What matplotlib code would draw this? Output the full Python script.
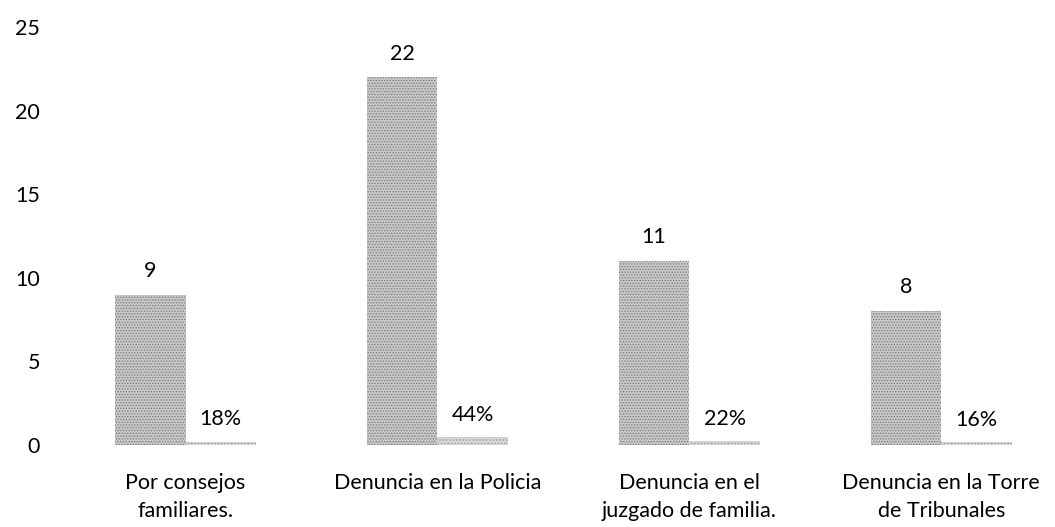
import matplotlib
matplotlib.use("Agg")
import matplotlib.pyplot as plt
import numpy as np

plt.rcParams['font.family'] = ['Lato', 'DejaVu Sans']
plt.rcParams['hatch.linewidth'] = 0.6

# data
categories = ['Por consejos\nfamiliares.', 'Denuncia en la Policia',
              'Denuncia en el\njuzgado de familia.', 'Denuncia en la Torre\nde Tribunales']
counts = [9, 22, 11, 8]
percents = [0.18, 0.44, 0.22, 0.16]
pct_labels = ['18%', '44%', '22%', '16%']

x = np.arange(len(categories))
w = 0.28
fs = 15.5

fig = plt.figure(figsize=(10.55, 5.27), dpi=100)
ax = fig.add_axes([0.0565, 0.156, 0.955, 0.792])

b1 = ax.bar(x - w / 2, counts, w, color='#c8c8c8', hatch='......',
            edgecolor='#7a7a7a', linewidth=0)
b2 = ax.bar(x + w / 2, percents, w, color='#d6d6d6', hatch='.....',
            edgecolor='#999999', linewidth=0)

for rect, v in zip(b1, counts):
    ax.annotate(str(v), (rect.get_x() + rect.get_width() / 2, v), xytext=(0, 10),
                textcoords='offset points', ha='center', va='bottom', fontsize=fs)
for rect, v, lab in zip(b2, percents, pct_labels):
    ax.annotate(lab, (rect.get_x() + rect.get_width() / 2, v), xytext=(0, 9),
                textcoords='offset points', ha='center', va='bottom', fontsize=fs)

ax.set_xlim(-0.5, 3.5)
ax.set_ylim(0, 25)
ax.set_yticks([0, 5, 10, 15, 20, 25])
ax.set_xticks(x)
ax.set_xticklabels(categories, fontsize=fs, linespacing=1.5)
ax.tick_params(axis='both', length=0, labelsize=fs)
ax.tick_params(axis='y', pad=14)
ax.tick_params(axis='x', pad=20)
for s in ax.spines.values():
    s.set_visible(False)

fig.savefig('out.png', dpi=100)
